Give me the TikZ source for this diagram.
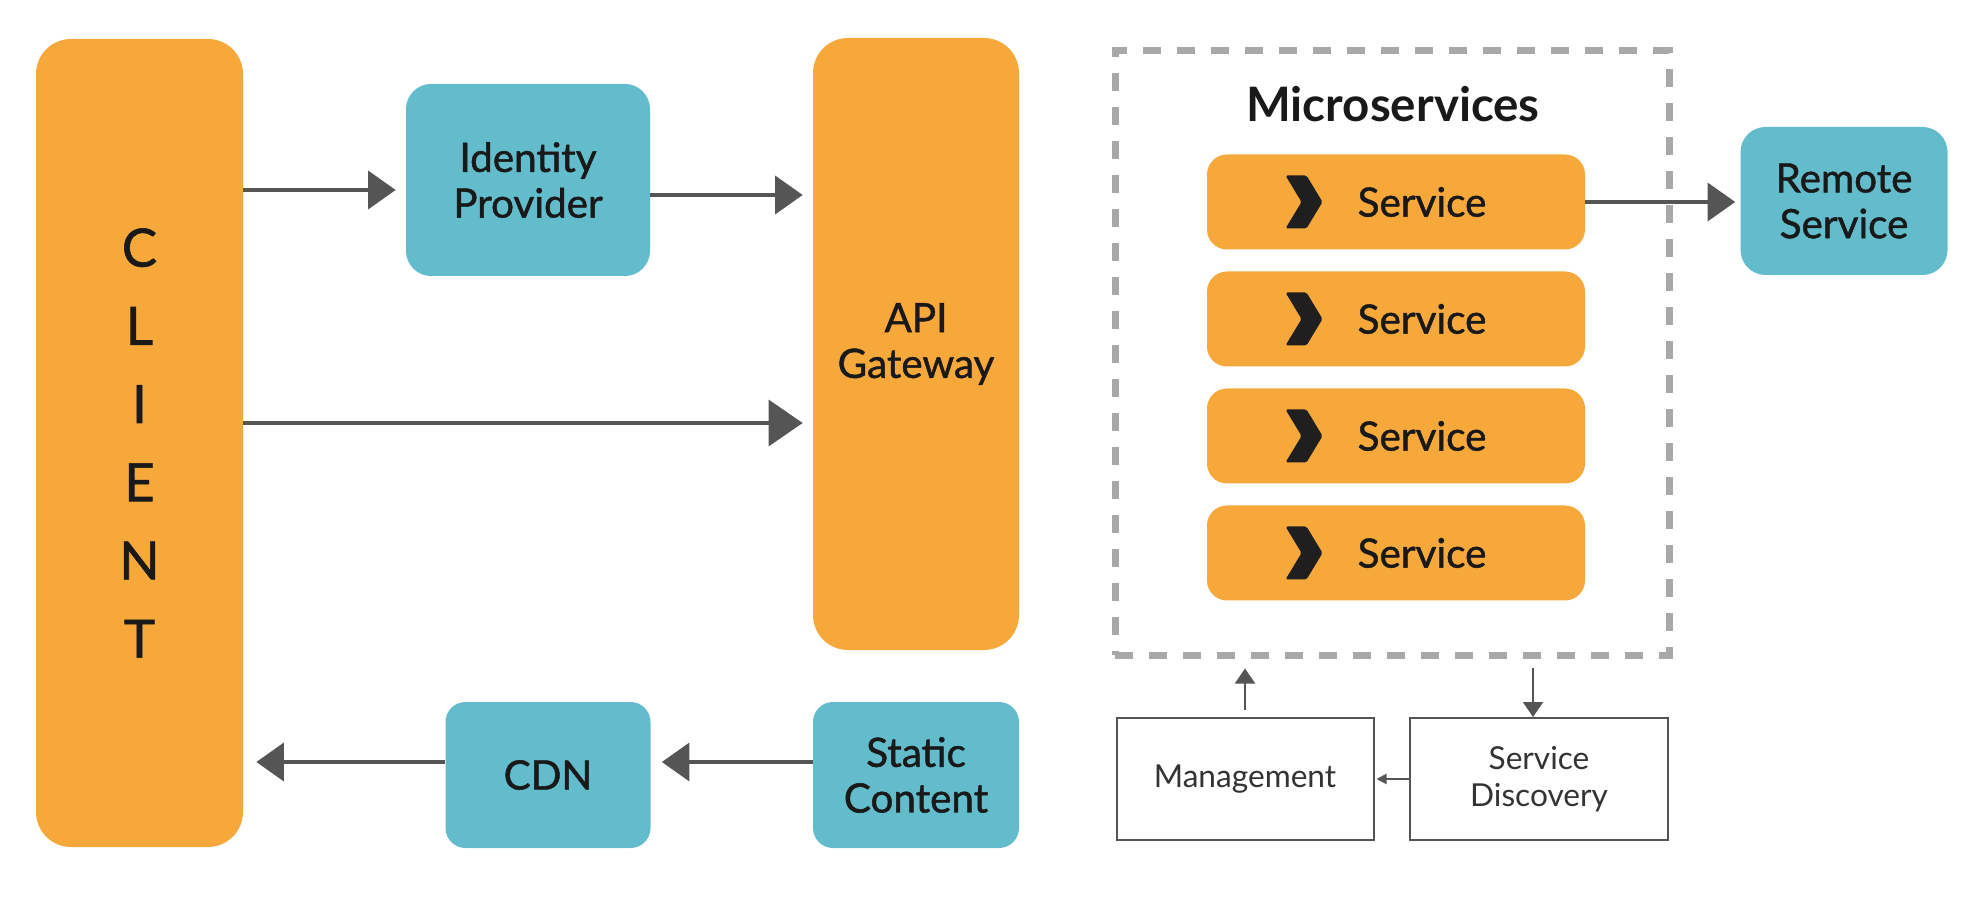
\documentclass[tikz,border=0pt]{standalone}
\usepackage{fontspec}
\setmainfont{Lato}
\newfontfamily\medfont{Lato}[FakeBold=1.2]
\usetikzlibrary{arrows.meta}
\definecolor{svcorange}{HTML}{F6A83B}
\definecolor{svcteal}{HTML}{62BCCB}
\definecolor{arrgray}{HTML}{555555}
\definecolor{dashgray}{HTML}{A8A8A8}
\begin{document}
\begin{tikzpicture}
			\tikzstyle{blk} = [rounded corners=0.5cm, inner sep=0pt, align=center, text=black!90, font=\medfont\fontsize{23}{26}\selectfont]
			\tikzstyle{og} = [blk, fill=svcorange]
			\tikzstyle{tl} = [blk, fill=svcteal]
			\tikzstyle{wb} = [draw=arrgray, line width=0.04cm, inner sep=0pt, align=center, text=black!80, font=\fontsize{18}{21}\selectfont]
			\tikzstyle{big} = [arrgray, line width=0.07cm, -{Triangle[length=0.55cm,width=0.76cm]}]
			\tikzstyle{sml} = [arrgray, line width=0.04cm, -{Triangle[length=0.3cm,width=0.4cm]}]
			\useasboundingbox (0,0) rectangle (39.44,18.24);
			
			\node [og,rounded corners=0.7cm,minimum width=4.14cm,minimum height=16.16cm,font=\medfont\fontsize{30}{44.5}\selectfont] (client) at (2.79,9.38) {C\\L\\I\\E\\N\\T};
			\node [tl,minimum width=4.88cm,minimum height=3.84cm] (idp) at (10.56,14.64) {Identity\\Provider};
			\node [og,rounded corners=0.7cm,minimum width=4.12cm,minimum height=12.24cm] (api) at (18.32,11.36) {API\\Gateway};
			\node [tl,rounded corners=0.4cm,minimum width=4.10cm,minimum height=2.92cm] (cdn) at (10.96,2.74) {CDN};
			\node [tl,rounded corners=0.4cm,minimum width=4.12cm,minimum height=2.92cm] (static) at (18.32,2.74) {Static\\Content};
			
			\coordinate (r1) at (0,14.44);
			\coordinate (r2) at (0,14.34);
			\coordinate (r3) at (0,9.78);
			\coordinate (r4) at (0,3.00);
			\draw [big] (client.east |- r1) -- (idp.west |- r1) [shorten >=0.2cm];
			\draw [big] (idp.east |- r2) -- (api.west |- r2) [shorten >=0.2cm];
			\draw [big,-{Triangle[length=0.68cm,width=0.92cm]}] (client.east |- r3) -- (api.west |- r3) [shorten >=0.2cm];
			\draw [big] (static.west |- r4) -- (cdn.east |- r4) [shorten >=0.22cm];
			\draw [big] (cdn.west |- r4) -- (client.east |- r4) [shorten >=0.26cm];
			
			% microservices
			\node [draw=dashgray, line width=0.14cm, dash pattern=on 0.36cm off 0.32cm, minimum width=11.08cm, minimum height=12.08cm] (ms) at (27.84,11.18) {};
			\node [font=\fontsize{27}{30}\selectfont\bfseries, text=black!90] (mstitle) at (27.86,16.16) {Microservices};
			\node [og,rounded corners=0.4cm,minimum width=7.56cm,minimum height=1.90cm] (s1) at (27.92,14.20) {\hspace*{1.04cm}Service};
			\node [og,rounded corners=0.4cm,minimum width=7.56cm,minimum height=1.90cm] (s2) at (27.92,11.86) {\hspace*{1.04cm}Service};
			\node [og,rounded corners=0.4cm,minimum width=7.56cm,minimum height=1.90cm] (s3) at (27.92,9.52) {\hspace*{1.04cm}Service};
			\node [og,rounded corners=0.4cm,minimum width=7.56cm,minimum height=1.90cm] (s4) at (27.92,7.18) {\hspace*{1.04cm}Service};
			\fill [black!88, rounded corners=1pt] (25.71,14.73) -- ++(0.42,0) -- ++(0.32,-0.53) -- ++(-0.32,-0.53) -- ++(-0.42,0) -- ++(0.32,0.53) -- cycle;
			\fill [black!88, rounded corners=1pt] (25.71,12.39) -- ++(0.42,0) -- ++(0.32,-0.53) -- ++(-0.32,-0.53) -- ++(-0.42,0) -- ++(0.32,0.53) -- cycle;
			\fill [black!88, rounded corners=1pt] (25.71,10.05) -- ++(0.42,0) -- ++(0.32,-0.53) -- ++(-0.32,-0.53) -- ++(-0.42,0) -- ++(0.32,0.53) -- cycle;
			\fill [black!88, rounded corners=1pt] (25.71,7.71) -- ++(0.42,0) -- ++(0.32,-0.53) -- ++(-0.32,-0.53) -- ++(-0.42,0) -- ++(0.32,0.53) -- cycle;
			
			\node [tl,minimum width=4.14cm,minimum height=2.96cm] (remote) at (36.88,14.22) {Remote\\Service};
			\draw [big] (s1.east) -- (remote.west |- s1.east) [shorten >=0.1cm];
			
			\node [wb,minimum width=5.14cm,minimum height=2.44cm] (mgmt) at (24.90,2.66) {Management};
			\node [wb,minimum width=5.16cm,minimum height=2.44cm] (sd) at (30.78,2.66) {Service\\Discovery};
			
			\coordinate (dx) at (30.66,0);
			\draw [sml] (mgmt.north) -- (ms.south -| mgmt.north) [shorten <=0.14cm, shorten >=0.2cm];
			\draw [sml] (ms.south -| dx) -- (sd.north -| dx) [shorten <=0.18cm];
			\draw [arrgray, line width=0.04cm, -{Triangle[length=0.2cm,width=0.2cm]}] (sd.west) -- (mgmt.east) [shorten >=0.04cm];
			
		\end{tikzpicture}
\end{document}
